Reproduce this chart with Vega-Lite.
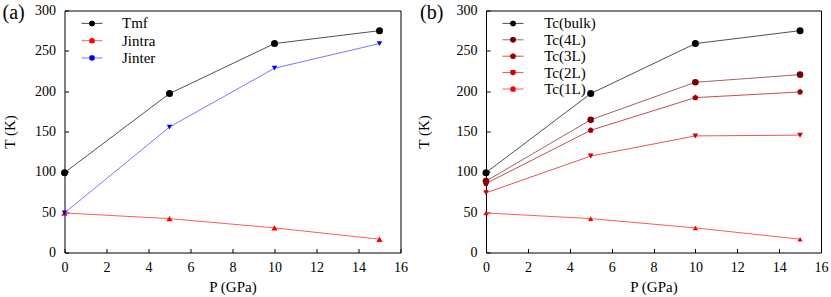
{
  "$schema": "https://vega.github.io/schema/vega-lite/v6.json",
  "padding": {"left": 1.5, "right": 3, "top": 1.5, "bottom": 0},
  "spacing": 6.5,
  "resolve": {
    "scale": {"stroke": "independent", "fill": "independent", "shape": "independent", "size": "independent", "x": "independent", "y": "independent"},
    "legend": {"stroke": "independent", "fill": "independent", "shape": "independent", "size": "independent"}
  },
  "config": {
    "font": "Liberation Serif",
    "view": {"stroke": "#000000"},
    "axis": {
      "labelFont": "Liberation Serif",
      "titleFont": "Liberation Serif",
      "labelFontSize": 14,
      "titleFontSize": 15,
      "titleFontWeight": "normal",
      "labelColor": "#000000",
      "titleColor": "#000000",
      "tickColor": "#000000",
      "domain": false,
      "grid": false,
      "tickSize": 4,
      "offset": -4,
      "labelFlush": false,
      "labelOverlap": false
    }
  },
  "data": {"values": [
    {"g": "a", "s": "Tmf", "p": 0, "t": 99},
    {"g": "a", "s": "Tmf", "p": 5, "t": 197},
    {"g": "a", "s": "Tmf", "p": 10, "t": 259},
    {"g": "a", "s": "Tmf", "p": 15, "t": 275},
    {"g": "a", "s": "Jintra", "p": 0, "t": 49},
    {"g": "a", "s": "Jintra", "p": 5, "t": 42},
    {"g": "a", "s": "Jintra", "p": 10, "t": 30.5},
    {"g": "a", "s": "Jintra", "p": 15, "t": 16.5},
    {"g": "a", "s": "Jinter", "p": 0, "t": 49},
    {"g": "a", "s": "Jinter", "p": 5, "t": 155.5},
    {"g": "a", "s": "Jinter", "p": 10, "t": 228.5},
    {"g": "a", "s": "Jinter", "p": 15, "t": 259},
    {"g": "b", "s": "Tc(bulk)", "p": 0, "t": 99},
    {"g": "b", "s": "Tc(bulk)", "p": 5, "t": 197},
    {"g": "b", "s": "Tc(bulk)", "p": 10, "t": 259},
    {"g": "b", "s": "Tc(bulk)", "p": 15, "t": 275},
    {"g": "b", "s": "Tc(4L)", "p": 0, "t": 88.5},
    {"g": "b", "s": "Tc(4L)", "p": 5, "t": 164.5},
    {"g": "b", "s": "Tc(4L)", "p": 10, "t": 211},
    {"g": "b", "s": "Tc(4L)", "p": 15, "t": 220.5},
    {"g": "b", "s": "Tc(3L)", "p": 0, "t": 85.5},
    {"g": "b", "s": "Tc(3L)", "p": 5, "t": 151.5},
    {"g": "b", "s": "Tc(3L)", "p": 10, "t": 192},
    {"g": "b", "s": "Tc(3L)", "p": 15, "t": 199},
    {"g": "b", "s": "Tc(2L)", "p": 0, "t": 74},
    {"g": "b", "s": "Tc(2L)", "p": 5, "t": 119.5},
    {"g": "b", "s": "Tc(2L)", "p": 10, "t": 144.5},
    {"g": "b", "s": "Tc(2L)", "p": 15, "t": 145.5},
    {"g": "b", "s": "Tc(1L)", "p": 0, "t": 49},
    {"g": "b", "s": "Tc(1L)", "p": 5, "t": 42},
    {"g": "b", "s": "Tc(1L)", "p": 10, "t": 30.5},
    {"g": "b", "s": "Tc(1L)", "p": 15, "t": 16.5}
  ]},
  "hconcat": [
    {
      "width": 336,
      "height": 242,
      "transform": [{"filter": "datum.g === 'a'"}],
      "layer": [
        {
          "transform": [{"calculate": "datum.s", "as": "line"}],
          "mark": {"type": "line", "strokeWidth": 1},
          "encoding": {
            "x": {"field": "p", "type": "quantitative", "scale": {"domain": [0, 16], "nice": false, "zero": false},
                  "axis": {"orient": "bottom", "values": [0, 2, 4, 6, 8, 10, 12, 14, 16], "title": "P (GPa)", "labelPadding": 8, "titlePadding": 5}},
            "y": {"field": "t", "type": "quantitative", "scale": {"domain": [0, 300], "nice": false},
                  "axis": {"orient": "left", "values": [0, 50, 100, 150, 200, 250, 300], "title": "T (K)", "labelPadding": 9, "titlePadding": 17}},
            "stroke": {"field": "line", "type": "nominal", "sort": ["Tmf", "Jintra", "Jinter"],
                       "scale": {"range": ["#505050", "#ff5c5c", "#7878ff"]},
                       "legend": {"title": "(a)", "titleFontSize": 20, "titleFontWeight": "normal", "titleColor": "#000000", "titleFont": "Liberation Serif", "titleAnchor": "start", "titleOrient": "top", "titlePadding": -7,
                                  "orient": "none", "legendX": -62, "legendY": -7.6, "symbolType": "M-3.5,0H3.5", "symbolSize": 36, "symbolStrokeWidth": 1, "symbolOffset": 82,
                                  "labelFontSize": 15, "labelFont": "Liberation Serif", "labelColor": "#000000", "labelOffset": 22.5, "rowPadding": 1.3, "padding": 0}}
          }
        },
        {
          "mark": {"type": "point", "filled": true, "opacity": 1},
          "encoding": {
            "x": {"field": "p", "type": "quantitative"},
            "y": {"field": "t", "type": "quantitative"},
            "fill": {"field": "s", "type": "nominal", "sort": ["Tmf", "Jintra", "Jinter"], "scale": {"range": ["#000000", "#ff0000", "#0000ff"]},
                     "legend": {"title": "(a)", "titleFontSize": 20, "titleFontWeight": "normal", "titleOpacity": 0, "titleAnchor": "start", "titleOrient": "top", "titlePadding": -7,
                                "orient": "none", "legendX": -62, "legendY": -7.6, "symbolSize": 30, "symbolStrokeWidth": 1, "symbolOffset": 82,
                                "labelFontSize": 15, "labelOpacity": 0, "labelOffset": 22.5, "rowPadding": 1.3, "padding": 0}},
            "shape": {"field": "s", "type": "nominal", "sort": ["Tmf", "Jintra", "Jinter"], "scale": {"range": ["circle", "triangle-up", "triangle-down"]},
                      "legend": {"title": "(a)", "titleFontSize": 20, "titleFontWeight": "normal", "titleOpacity": 0, "titleAnchor": "start", "titleOrient": "top", "titlePadding": -7,
                                 "orient": "none", "legendX": -62, "legendY": -7.6, "symbolSize": 30, "symbolStrokeWidth": 1, "symbolOffset": 82,
                                 "labelFontSize": 15, "labelOpacity": 0, "labelOffset": 22.5, "rowPadding": 1.3, "padding": 0}},
            "size": {"field": "s", "type": "nominal", "sort": ["Tmf", "Jintra", "Jinter"], "scale": {"range": [49, 30, 30]}, "legend": null}
          }
        }
      ]
    },
    {
      "width": 335,
      "height": 242,
      "transform": [{"filter": "datum.g === 'b'"}],
      "layer": [
        {
          "transform": [{"calculate": "datum.s", "as": "line"}],
          "mark": {"type": "line", "strokeWidth": 1},
          "encoding": {
            "x": {"field": "p", "type": "quantitative", "scale": {"domain": [0, 16], "nice": false, "zero": false},
                  "axis": {"orient": "bottom", "values": [0, 2, 4, 6, 8, 10, 12, 14, 16], "title": "P (GPa)", "labelPadding": 8, "titlePadding": 5}},
            "y": {"field": "t", "type": "quantitative", "scale": {"domain": [0, 300], "nice": false},
                  "axis": {"orient": "left", "values": [0, 50, 100, 150, 200, 250, 300], "title": "T (K)", "labelPadding": 9, "titlePadding": 25}},
            "stroke": {"field": "line", "type": "nominal", "sort": ["Tc(bulk)", "Tc(4L)", "Tc(3L)", "Tc(2L)", "Tc(1L)"],
                       "scale": {"range": ["#505050", "#a86060", "#c05050", "#e85555", "#ff5c5c"]},
                       "legend": {"title": "(b)", "titleFontSize": 20, "titleFontWeight": "normal", "titleColor": "#000000", "titleFont": "Liberation Serif", "titleAnchor": "start", "titleOrient": "top", "titlePadding": -7,
                                  "orient": "none", "legendX": -66, "legendY": -7.6, "symbolType": "M-3.5,0H3.5", "symbolSize": 36, "symbolStrokeWidth": 1, "symbolOffset": 85.5,
                                  "labelFontSize": 15, "labelFont": "Liberation Serif", "labelColor": "#000000", "labelOffset": 23.7, "rowPadding": 0.4, "padding": 0}}
          }
        },
        {
          "mark": {"type": "point", "filled": true, "opacity": 1},
          "encoding": {
            "x": {"field": "p", "type": "quantitative"},
            "y": {"field": "t", "type": "quantitative"},
            "fill": {"field": "s", "type": "nominal", "sort": ["Tc(bulk)", "Tc(4L)", "Tc(3L)", "Tc(2L)", "Tc(1L)"], "scale": {"range": ["#000000", "#7a0000", "#a00000", "#d40000", "#ff0000"]},
                     "legend": {"title": "(b)", "titleFontSize": 20, "titleFontWeight": "normal", "titleOpacity": 0, "titleAnchor": "start", "titleOrient": "top", "titlePadding": -7,
                                "orient": "none", "legendX": -66, "legendY": -7.6, "symbolSize": 30, "symbolStrokeWidth": 1, "symbolOffset": 85.5,
                                "labelFontSize": 15, "labelOpacity": 0, "labelOffset": 23.7, "rowPadding": 0.4, "padding": 0}},
            "shape": {"field": "s", "type": "nominal", "sort": ["Tc(bulk)", "Tc(4L)", "Tc(3L)", "Tc(2L)", "Tc(1L)"], "scale": {"range": ["circle", "circle", "M0,-1L0.951,-0.309L0.588,0.809L-0.588,0.809L-0.951,-0.309Z", "triangle-down", "triangle-up"]},
                      "legend": {"title": "(b)", "titleFontSize": 20, "titleFontWeight": "normal", "titleOpacity": 0, "titleAnchor": "start", "titleOrient": "top", "titlePadding": -7,
                                 "orient": "none", "legendX": -66, "legendY": -7.6, "symbolSize": 30, "symbolStrokeWidth": 1, "symbolOffset": 85.5,
                                 "labelFontSize": 15, "labelOpacity": 0, "labelOffset": 23.7, "rowPadding": 0.4, "padding": 0}},
            "size": {"field": "s", "type": "nominal", "sort": ["Tc(bulk)", "Tc(4L)", "Tc(3L)", "Tc(2L)", "Tc(1L)"], "scale": {"range": [49, 28, 30, 30, 30]}, "legend": null}
          }
        }
      ]
    }
  ]
}
